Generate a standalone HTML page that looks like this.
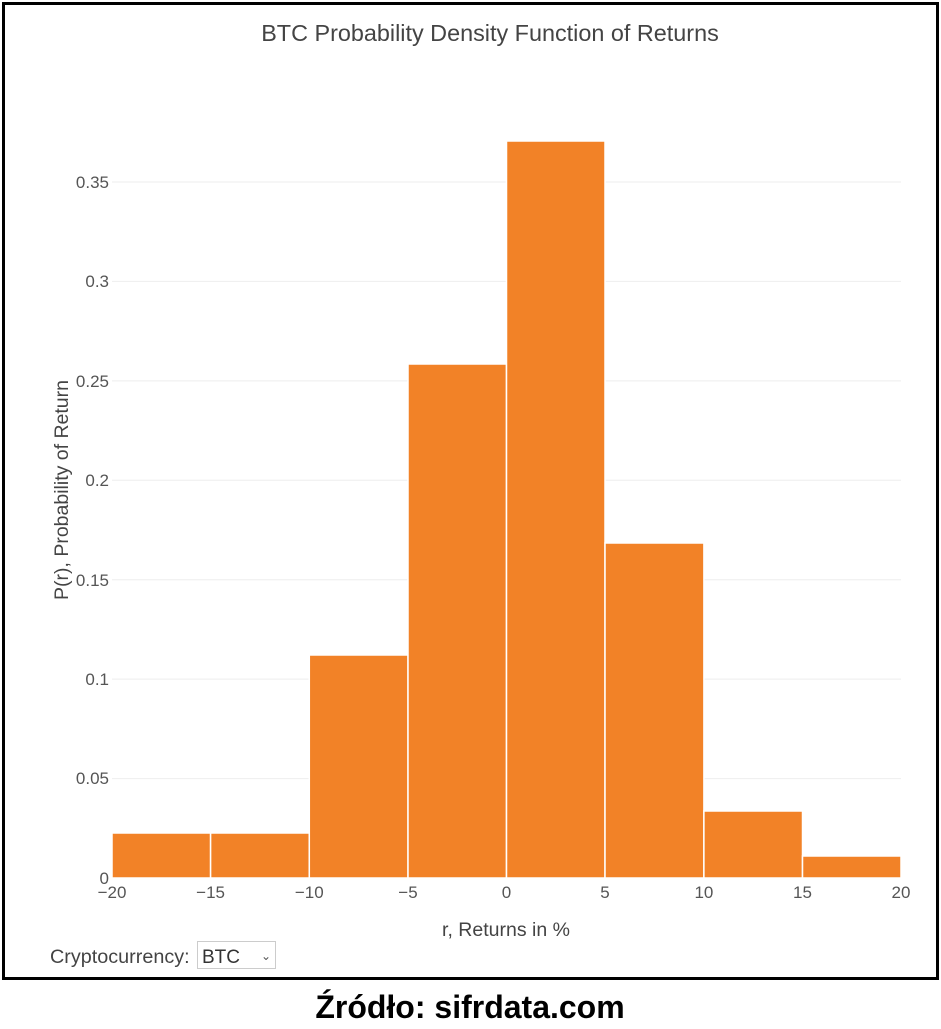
<!DOCTYPE html>
<html><head><style>
body{margin:0;background:#fff;width:941px;height:1024px;overflow:hidden}
</style></head><body>
<svg width="941" height="1024" xmlns="http://www.w3.org/2000/svg" font-family="'Liberation Sans',sans-serif">
<rect x="3.5" y="3.5" width="934" height="975" fill="#fff" stroke="#000" stroke-width="3"/>
<text x="490" y="41" text-anchor="middle" font-size="23.4" fill="#444">BTC Probability Density Function of Returns</text>
<g stroke="#eee" stroke-width="1">
<line x1="112" x2="901" y1="778.6" y2="778.6"/><line x1="112" x2="901" y1="679.1" y2="679.1"/>
<line x1="112" x2="901" y1="579.7" y2="579.7"/><line x1="112" x2="901" y1="480.3" y2="480.3"/>
<line x1="112" x2="901" y1="380.9" y2="380.9"/><line x1="112" x2="901" y1="281.4" y2="281.4"/>
<line x1="112" x2="901" y1="182" y2="182"/>
</g>
<g fill="#f28227" stroke="#fff" stroke-width="1.5">
<rect x="112" y="833" width="98.6" height="45"/>
<rect x="210.6" y="833" width="98.7" height="45"/>
<rect x="309.3" y="655" width="98.7" height="223"/>
<rect x="408" y="364" width="98.5" height="514"/>
<rect x="506.5" y="141" width="98.5" height="737"/>
<rect x="605" y="543" width="98.9" height="335"/>
<rect x="703.9" y="811" width="98.6" height="67"/>
<rect x="802.5" y="856" width="98.5" height="22"/>
</g>
<g font-size="17" fill="#555" text-anchor="end">
<text x="109" y="884">0</text><text x="109" y="784">0.05</text><text x="109" y="685">0.1</text>
<text x="109" y="586">0.15</text><text x="109" y="486">0.2</text><text x="109" y="387">0.25</text>
<text x="109" y="287">0.3</text><text x="109" y="188">0.35</text>
</g>
<g font-size="17" fill="#555" text-anchor="middle">
<text x="112" y="898">−20</text><text x="210.6" y="898">−15</text><text x="309.3" y="898">−10</text>
<text x="408" y="898">−5</text><text x="506.5" y="898">0</text><text x="605" y="898">5</text>
<text x="703.9" y="898">10</text><text x="802.5" y="898">15</text><text x="901" y="898">20</text>
</g>
<text x="506" y="936" text-anchor="middle" font-size="19.5" fill="#444">r, Returns in %</text>
<text transform="translate(68,490) rotate(-90)" text-anchor="middle" font-size="19.5" fill="#444">P(r), Probability of Return</text>
<text x="50" y="963" font-size="19.8" fill="#444">Cryptocurrency:</text>
<rect x="197.5" y="941.5" width="78" height="27" fill="#fff" stroke="#ccc"/>
<text x="202" y="963" font-size="19" fill="#333">BTC</text>
<text x="266" y="960" font-size="12" fill="#555" text-anchor="middle">⌄</text>
<text x="470" y="1018" text-anchor="middle" font-size="32" font-weight="bold" fill="#000">Źródło: sifrdata.com</text>
</svg>
</body></html>
